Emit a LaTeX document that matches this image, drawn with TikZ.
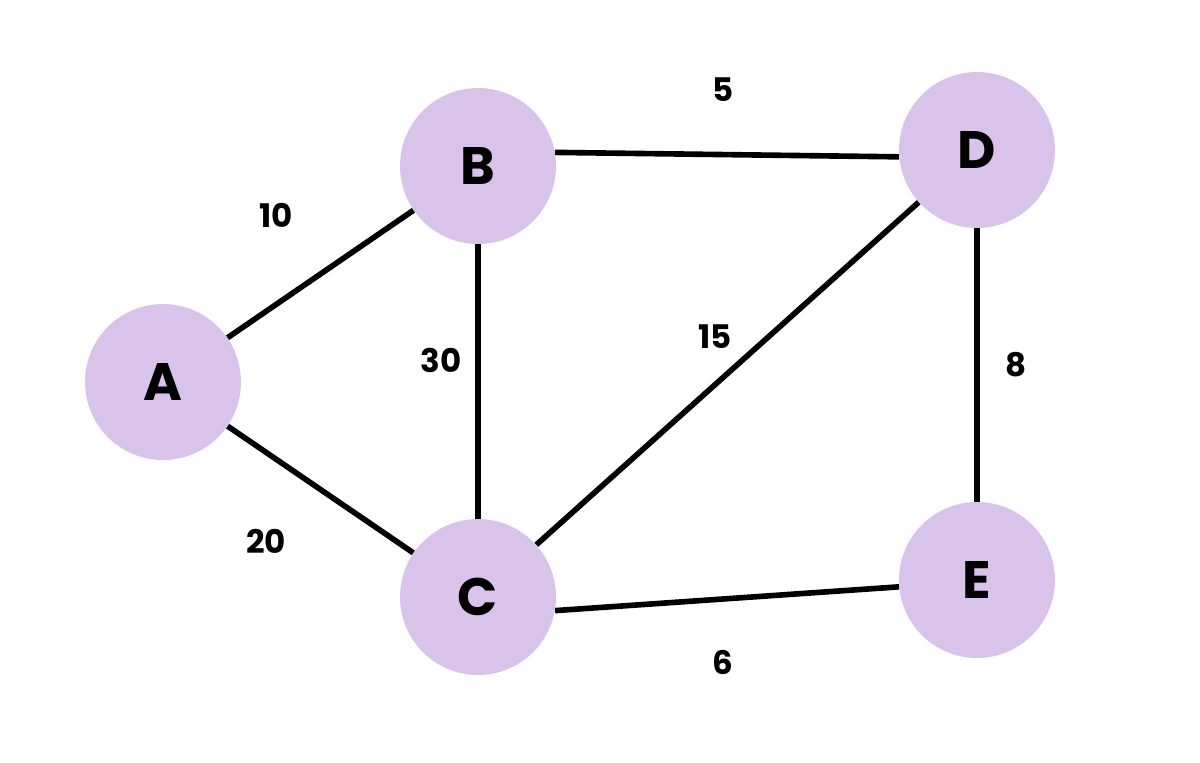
\documentclass[tikz,border=0pt]{standalone}
\usepackage{fontspec}
\setmainfont{Poppins}
\begin{document}
\begin{tikzpicture}[x=0.02cm,y=-0.02cm,
  v/.style={circle,fill=nodefill,minimum size=3.12cm,inner sep=0pt,font=\fontsize{30}{32}\selectfont\bfseries},
  e/.style={line width=3.2pt,black},
  w/.style={font=\fontsize{18.5}{20}\selectfont\bfseries}]
\definecolor{nodefill}{HTML}{D9C3EB}
\useasboundingbox (0,0) rectangle (1200,762);
\node[v] (A) at (163,382) {A};
\node[v] (B) at (478,166) {B};
\node[v] (C) at (478,597) {C};
\node[v] (D) at (977,150) {D};
\node[v] (E) at (977,580) {E};
\draw[e] (A) -- (B);
\draw[e] (A) -- (C);
\draw[e] (B) -- (C);
\draw[e] (B.10) -- (D.185);
\draw[e] (C) -- (D);
\draw[e] (D) -- (E);
\draw[e] (C.-10) -- (E.185);
\node[w] (l1) at (276,215) {10};
\node[w] (l2) at (266,541) {20};
\node[w] (l3) at (441,360) {30};
\node[w] (l4) at (723,90) {5};
\node[w] (l5) at (715,337) {15};
\node[w] (l6) at (1016,365) {8};
\node[w] (l7) at (723,662) {6};
\end{tikzpicture}
\end{document}
